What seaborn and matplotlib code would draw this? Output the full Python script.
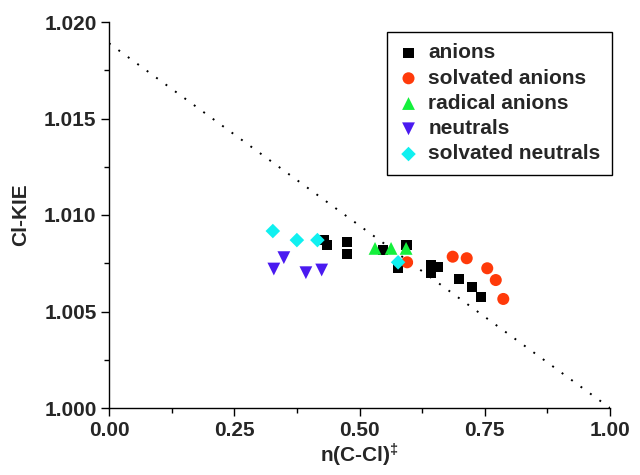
import numpy as np
import pandas as pd
import matplotlib
matplotlib.use("Agg")
import matplotlib.pyplot as plt
from matplotlib.font_manager import FontProperties
import seaborn as sns

# ---- data ----
anions_x = [0.428, 0.4345, 0.4745, 0.4745, 0.5475, 0.594, 0.5775, 0.643, 0.657, 0.643, 0.6986, 0.724, 0.742]
anions_y = [1.00870, 1.00845, 1.00860, 1.00799, 1.00819, 1.00845, 1.00727, 1.00741, 1.00732, 1.00698, 1.00668, 1.00628, 1.00575]

solv_anions_x = [0.595, 0.686, 0.714, 0.755, 0.772, 0.787]
solv_anions_y = [1.00755, 1.00784, 1.00776, 1.00724, 1.00663, 1.00565]

radical_x = [0.531, 0.563, 0.593]
radical_y = [1.00827, 1.00827, 1.00827]

neutrals_x = [0.329, 0.349, 0.393, 0.4245]
neutrals_y = [1.00720, 1.00779, 1.00701, 1.00715]

solv_neutrals_x = [0.327, 0.375, 0.416, 0.577]
solv_neutrals_y = [1.00917, 1.00870, 1.00870, 1.00755]

groups = ["anions", "solvated anions", "radical anions", "neutrals", "solvated neutrals"]
line_x = [0.0, 1.0]
line_y = [1.0189, 1.0000]

xticks = [0.00, 0.25, 0.50, 0.75, 1.00]
yticks = [1.000, 1.005, 1.010, 1.015, 1.020]

# ---- build frame ----
xs = [anions_x, solv_anions_x, radical_x, neutrals_x, solv_neutrals_x]
ys = [anions_y, solv_anions_y, radical_y, neutrals_y, solv_neutrals_y]
df = pd.concat([pd.DataFrame({"x": x, "y": y, "group": g}) for x, y, g in zip(xs, ys, groups)],
               ignore_index=True)

palette = {"anions": "#000000", "solvated anions": "#FF3A0A", "radical anions": "#14F03C",
           "neutrals": "#4A1AF0", "solvated neutrals": "#10F0F0"}
markers = {"anions": "s", "solvated anions": "o", "radical anions": "^",
           "neutrals": "v", "solvated neutrals": "D"}
sizes = {"anions": 55, "solvated anions": 75, "radical anions": 85,
         "neutrals": 85, "solvated neutrals": 55}

sns.set_style("ticks")
plt.rcParams["font.family"] = ["Liberation Sans", "DejaVu Sans"]
plt.rcParams["font.weight"] = "bold"
plt.rcParams["mathtext.fontset"] = "custom"
plt.rcParams["mathtext.rm"] = "Liberation Sans:bold"
plt.rcParams["mathtext.it"] = "Liberation Sans:bold"
plt.rcParams["mathtext.bf"] = "Liberation Sans:bold"

FS = 15

fig = plt.figure(figsize=(6.4, 4.75), dpi=100)
ax = fig.add_axes([109/640, 1-408/475, 501/640, 386/475])

ax.plot(line_x, line_y, color="black", linestyle=(0, (1, 5)), linewidth=1.4, zorder=1)

for g in groups:
    sub = df[df.group == g]
    sns.scatterplot(data=sub, x="x", y="y", color=palette[g], marker=markers[g],
                    s=sizes[g], edgecolor="none", linewidth=0, label=g, ax=ax, zorder=3)

ax.set_xlim(0, 1.0)
ax.set_ylim(1.000, 1.020)
ax.set_xticks(xticks)
ax.set_yticks(yticks)
ax.set_xticklabels([f"{t:.2f}" for t in xticks], fontsize=FS, fontweight="bold")
ax.set_yticklabels([f"{t:.3f}" for t in yticks], fontsize=FS, fontweight="bold")
ax.set_xticks(np.arange(0.125, 1.0, 0.25), minor=True)
ax.set_yticks(np.arange(1.0025, 1.020, 0.005), minor=True)
ax.tick_params(which="major", direction="out", length=6, width=1, color="black", pad=3)
ax.tick_params(which="minor", direction="out", length=3.5, width=1, color="black")
for s in ["top", "right"]:
    ax.spines[s].set_visible(False)
for s in ["left", "bottom"]:
    ax.spines[s].set_color("black")
    ax.spines[s].set_linewidth(1)

ax.set_xlabel(r"n(C-Cl)$^{\ddagger}$", fontsize=FS, fontweight="bold", labelpad=2)
ax.set_ylabel("Cl-KIE", fontsize=FS, fontweight="bold", labelpad=10)

legprop = FontProperties(family="Liberation Sans", weight="bold", size=FS)
leg = ax.legend(loc="upper right", bbox_to_anchor=(1.004, 0.974), borderaxespad=0,
                frameon=True, fancybox=False, edgecolor="black",
                handletextpad=0.45, borderpad=0.55, labelspacing=0.3, handlelength=1.0,
                prop=legprop)
leg.get_frame().set_linewidth(1)
leg.get_frame().set_alpha(1)
for t in leg.get_texts():
    t.set_fontproperties(legprop)

fig.savefig("out.png", dpi=100)
